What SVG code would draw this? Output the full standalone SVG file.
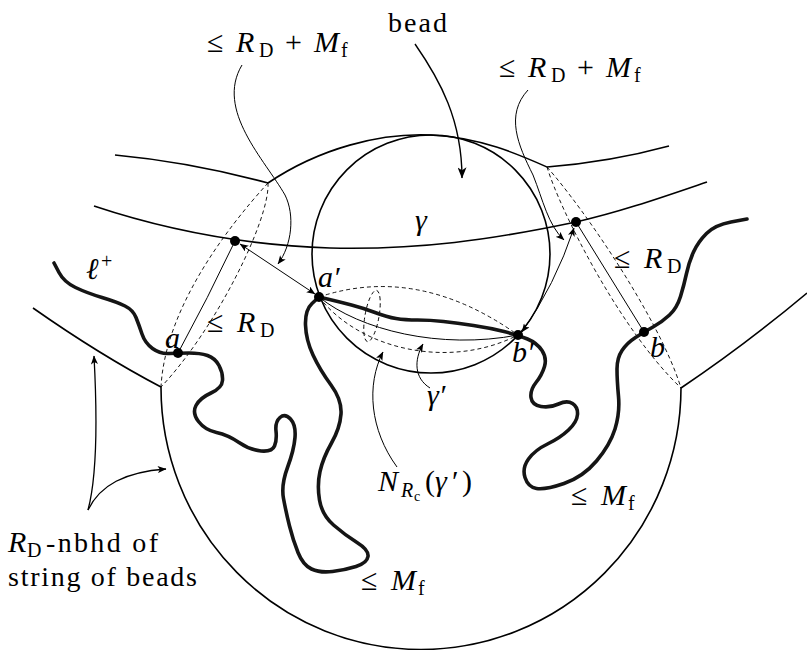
<svg xmlns="http://www.w3.org/2000/svg" width="807" height="650" viewBox="0 0 807 650">
<style>
.b{fill:none;stroke:#000;stroke-width:1.6}
.t{fill:none;stroke:#000;stroke-width:1}
.d{fill:none;stroke:#000;stroke-width:0.9;stroke-dasharray:4 3}
.k{fill:none;stroke:#151515;stroke-width:3.6;stroke-linecap:round;stroke-linejoin:round}
.dot{fill:#000}
.i{font-style:italic}
.s{font-size:20px}
.r{font-size:28px}
</style>
<defs>
<marker id="ah" viewBox="0 0 10 8" refX="9.5" refY="4" markerWidth="9" markerHeight="7" markerUnits="userSpaceOnUse" orient="auto-start-reverse">
<path d="M0,0 L10,4 L0,8 L2.5,4 z" fill="#000"/>
</marker>
<marker id="ahb" viewBox="0 0 10 8" refX="9.5" refY="4" markerWidth="12" markerHeight="9" markerUnits="userSpaceOnUse" orient="auto">
<path d="M0,0 L10,4 L0,8 L2.5,4 z" fill="#000"/>
</marker>
</defs>
<rect width="807" height="650" fill="#fff"/>

<g id="neighbourhood">
<path class="b" d="M115,155 Q190,162 268,183"/>
<path class="b" d="M268,183 C320,148 380,133 430,135 C480,137 520,155 547,167"/>
<path class="b" d="M547,167 Q610,162 669,146"/>
<path class="b" d="M33,308 Q100,355 161,387"/>
<path class="b" d="M161,387 A260 262 0 0 0 681,388"/>
<path class="b" d="M681,388 Q745,345 807,293"/>
<path class="d" d="M268,183 C225,230 165,310 161,387"/>
<path class="d" d="M268,183 C270,220 215,330 161,387"/>
<path class="d" d="M547,167 C560,210 620,330 681,388"/>
<path class="d" d="M547,167 C585,210 660,320 681,388"/>
</g>

<g id="gamma">
<path class="b" d="M94,206 C160,228 240,245 330,248 C420,250 490,240 576,222 C620,212 660,198 707,182"/>
</g>

<g id="bead">
<circle class="b" cx="431" cy="254" r="119"/>
<path class="d" d="M319,297 Q418,264 518,335"/>
<path class="t" d="M319,297 C360,330 440,350 518,335"/>
<path class="d" d="M319,297 C360,350 450,370 518,335"/>
<ellipse class="d" cx="372" cy="316" rx="7" ry="26" transform="rotate(10 372 316)"/>
</g>

<g id="chords">
<path class="t" d="M235,241 Q208,298 178,353"/>
<path class="t" d="M576,222 L644,332"/>
</g>

<g id="string">
<path class="k" d="M54,263 L59,272.5 Q64,282 75.5,287.5 Q87,293 102,297.5 Q117,302 125,306 Q133,310 136,317.5 Q139,325 142,334 Q145,343 152.5,348.5 Q160,354 169,353.5 Q178,353 189,353 Q200,353 207.5,355.5 Q215,358 219,365.5 Q223,373 222.5,380.5 Q222,388 211,393 Q200,398 196,405.5 Q192,413 198.5,421.5 Q205,430 216.5,432.5 Q228,435 239,442.5 Q250,450 261,451 Q272,452 274.5,446 Q277,440 276,431 Q275,422 280,417.5 Q285,413 290.5,419 Q296,425 295,437.5 Q294,450 287.5,467.5 Q281,485 283.5,498.5 Q286,512 289.5,526 Q293,540 298,552.5 Q303,565 311.5,569 Q320,573 332.5,571.5 Q345,570 356,566.5 Q367,563 368,556.5 Q369,550 357,542.5 Q345,535 333.5,525 Q322,515 319.5,500 Q317,485 320,471.5 Q323,458 331.5,443 Q340,428 341,414 Q342,400 331,385 Q320,370 313,355 Q306,340 305.5,325 Q305,310 312,303.5 L319,297"/>
<path class="k" d="M319,297 L329.5,299.5 Q340,302 351.5,305 Q363,308 375,312.5 Q387,317 396,318.5 Q405,320 417.5,320 Q430,320 443.5,321.5 Q457,323 473.5,325.5 Q490,328 504,331.5 Q518,335 527.5,339 Q537,343 542,350.5 Q547,358 544.5,366.5 Q542,375 536,382.5 Q530,390 531,397.5 Q532,405 541,406.5 Q550,408 558.5,404 Q567,400 572.5,403.5 Q578,407 577.5,414.5 Q577,422 568.5,430 Q560,438 547.5,444 Q535,450 528.5,459 Q522,468 525,477.5 Q528,487 536.5,488.5 Q545,490 564,483.5 Q583,477 596.5,461 Q610,445 615,429 Q620,413 618.5,396.5 Q617,380 617,369 Q617,358 622,350.5 Q627,343 635.5,337.5 Q644,332 653,327 Q662,322 669.5,315 Q677,308 680.5,296.5 Q684,285 686.5,273.5 Q689,262 693.5,252 Q698,242 706.5,233.5 Q715,225 731,222 L747,219"/>
</g>

<g id="points">
<circle class="dot" cx="235" cy="241" r="5"/>
<circle class="dot" cx="178" cy="353" r="5"/>
<circle class="dot" cx="319" cy="297" r="5"/>
<circle class="dot" cx="518" cy="335" r="5"/>
<circle class="dot" cx="576" cy="222" r="5"/>
<circle class="dot" cx="644" cy="332" r="5"/>
</g>

<g id="connectors">
<path class="t" d="M240,244 L315,294" marker-start="url(#ah)" marker-end="url(#ah)"/>
<path class="t" d="M574,228 Q555,285 522,332" marker-start="url(#ah)" marker-end="url(#ah)"/>
<path class="t" d="M415,44 C440,80 462,120 462,178" style="stroke-width:1.4" marker-end="url(#ahb)"/>
<path class="t" d="M242,65 C215,110 265,160 285,195 C295,215 292,245 278,264" marker-end="url(#ah)"/>
<path class="t" d="M528,90 C505,115 518,145 533,175 C543,200 548,225 564,240" marker-end="url(#ah)"/>
<path class="t" d="M430,388 C414,378 414,360 423,344" marker-end="url(#ah)"/>
<path class="t" d="M397,467 C370,430 366,385 383,352" marker-end="url(#ah)"/>
<path class="t" d="M88,510 C96,480 98,430 94,356" style="stroke-width:1.3" marker-end="url(#ah)"/>
<path class="t" d="M88,510 C100,485 125,472 166,469" style="stroke-width:1.3" marker-end="url(#ah)"/>
</g>

<g id="labels" font-family="'Liberation Serif', 'Times New Roman', 'DejaVu Serif', serif" font-size="30" fill="#000">
<text class="r" x="388" y="32" textLength="59" lengthAdjust="spacing">bead</text>
<text y="52"><tspan x="207">≤</tspan><tspan x="236" class="i">R</tspan><tspan x="259" y="57" class="s">D</tspan><tspan x="285" y="52">+</tspan><tspan x="314" class="i">M</tspan><tspan x="341" y="57" class="s">f</tspan></text>
<text y="77"><tspan x="499">≤</tspan><tspan x="528" class="i">R</tspan><tspan x="551" y="82" class="s">D</tspan><tspan x="577" y="77">+</tspan><tspan x="606" class="i">M</tspan><tspan x="634" y="82" class="s">f</tspan></text>
<text y="332"><tspan x="207">≤</tspan><tspan x="237" class="i">R</tspan><tspan x="260" y="337" class="s">D</tspan></text>
<text y="268"><tspan x="614">≤</tspan><tspan x="644" class="i">R</tspan><tspan x="667" y="273" class="s">D</tspan></text>
<text y="505"><tspan x="571">≤</tspan><tspan x="601" class="i">M</tspan><tspan x="628" y="510" class="s">f</tspan></text>
<text y="590"><tspan x="361">≤</tspan><tspan x="391" class="i">M</tspan><tspan x="418" y="595" class="s">f</tspan></text>
<text class="i" x="415" y="230">γ</text>
<text class="i" x="427" y="405">γ′</text>
<text class="i" x="165" y="348">a</text>
<text class="i" x="318" y="287">a′</text>
<text class="i" x="512" y="362">b′</text>
<text class="i" x="650" y="357">b</text>
<text y="279"><tspan x="86" class="i">ℓ</tspan><tspan x="101" y="268" class="s">+</tspan></text>
<text y="491"><tspan x="378" class="i">N</tspan><tspan x="401" y="497" class="i s">R</tspan><tspan x="414" y="501" style="font-size:14px">c</tspan><tspan x="425" y="491">(</tspan><tspan x="435" class="i">γ</tspan><tspan x="452">′</tspan><tspan x="462">)</tspan></text>
<text class="r" y="552"><tspan x="8" class="i" style="font-size:30px">R</tspan><tspan x="27" y="557" class="s">D</tspan><tspan x="46" y="552" textLength="112" lengthAdjust="spacing">-nbhd of</tspan></text>
<text class="r" x="8" y="586" textLength="189" lengthAdjust="spacing">string of beads</text>
</g>
</svg>
